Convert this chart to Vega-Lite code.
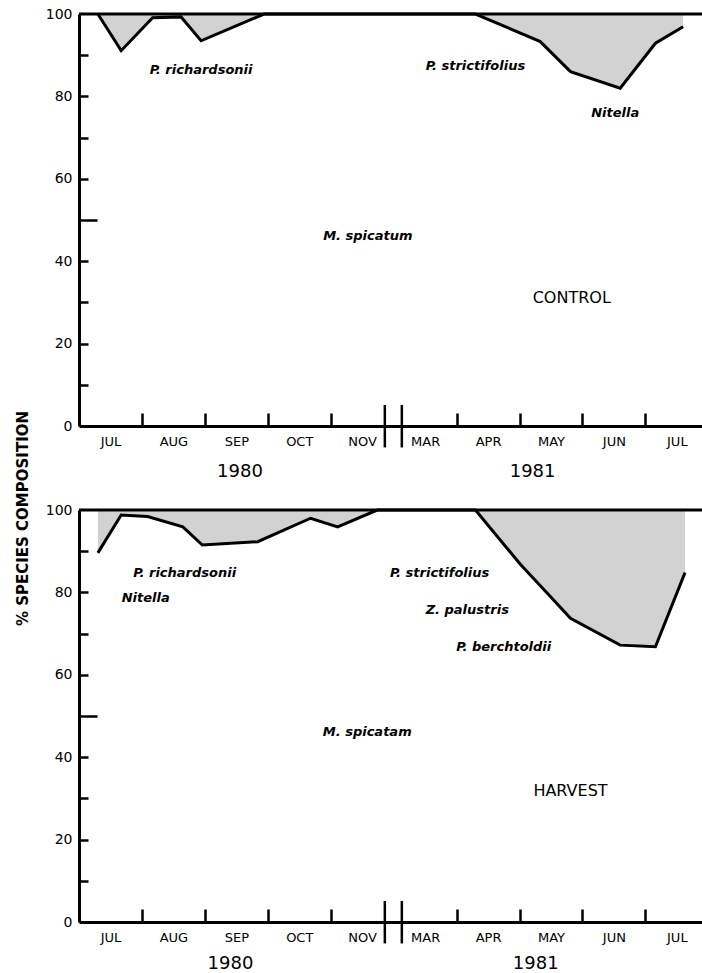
{
  "$schema": "https://vega.github.io/schema/vega-lite/v6.json",
  "background": "white",
  "padding": {"left": 14, "top": 7, "right": 0, "bottom": 0},
  "bounds": "flush",
  "spacing": 84,
  "config": {
    "view": {"stroke": null},
    "font": "DejaVu Sans",
    "axis": {"domainColor": "black", "domainWidth": 3, "tickColor": "black", "tickWidth": 2.5, "labelColor": "black", "labelFont": "DejaVu Sans", "grid": false, "labelOverlap": false, "labelFlush": false, "labelBound": false}
  },
  "datasets": {
    "control": [
      {"t": 0.30, "v": 100}, {"t": 0.67, "v": 91.1}, {"t": 1.17, "v": 99.1}, {"t": 1.62, "v": 99.3},
      {"t": 1.94, "v": 93.5}, {"t": 2.94, "v": 100}, {"t": 6.30, "v": 100}, {"t": 7.33, "v": 93.3},
      {"t": 7.81, "v": 86.0}, {"t": 8.60, "v": 82.0}, {"t": 9.16, "v": 92.9}, {"t": 9.60, "v": 96.9}
    ],
    "harvest": [
      {"t": 0.30, "v": 89.6}, {"t": 0.67, "v": 98.8}, {"t": 1.09, "v": 98.4}, {"t": 1.65, "v": 95.9},
      {"t": 1.96, "v": 91.5}, {"t": 2.84, "v": 92.3}, {"t": 3.68, "v": 98.0}, {"t": 4.11, "v": 95.9},
      {"t": 4.74, "v": 100}, {"t": 6.30, "v": 100}, {"t": 7.02, "v": 86.7}, {"t": 7.49, "v": 79.0},
      {"t": 7.81, "v": 73.7}, {"t": 8.60, "v": 67.2}, {"t": 9.16, "v": 66.8}, {"t": 9.63, "v": 84.8}
    ],
    "breaks": [{"t": 4.86}, {"t": 5.13}],
    "ctext": [
      {"label": "P. richardsonii", "t": 1.94, "v": 86.4},
      {"label": "P. strictifolius", "t": 6.30, "v": 87.4},
      {"label": "Nitella", "t": 8.52, "v": 76.0},
      {"label": "M. spicatum", "t": 4.59, "v": 46.1}
    ],
    "htext": [
      {"label": "P. richardsonii", "t": 1.68, "v": 84.7},
      {"label": "Nitella", "t": 1.06, "v": 78.6},
      {"label": "P. strictifolius", "t": 5.73, "v": 84.7},
      {"label": "Z. palustris", "t": 6.17, "v": 75.7},
      {"label": "P. berchtoldii", "t": 6.75, "v": 66.8},
      {"label": "M. spicatam", "t": 4.58, "v": 46.1}
    ],
    "ctitle": [{"label": "CONTROL", "t": 7.83, "v": 31.1}],
    "htitle": [{"label": "HARVEST", "t": 7.81, "v": 31.8}]
  },
  "vconcat": [
    {
      "width": 623, "height": 412,
      "layer": [
        {
          "data": {"name": "control"},
          "mark": {"type": "area", "fill": "#d2d2d2"},
          "encoding": {
            "x": {"field": "t", "type": "quantitative", "scale": {"domain": [0, 9.9], "nice": false, "zero": false},
              "axis": {"title": null, "labelOverlap": false, "tickCount": 40, "values": [0.5, 1, 1.5, 2, 2.5, 2.55, 3, 3.5, 4, 4.5, 5.5, 6, 6.5, 7, 7.2, 7.5, 8, 8.5, 9, 9.5],
                "labelExpr": "datum.value == 0.5 ? 'JUL' : datum.value == 1.5 ? 'AUG' : datum.value == 2.5 ? 'SEP' : datum.value == 3.5 ? 'OCT' : datum.value == 4.5 ? 'NOV' : datum.value == 5.5 ? 'MAR' : datum.value == 6.5 ? 'APR' : datum.value == 7.5 ? 'MAY' : datum.value == 8.5 ? 'JUN' : datum.value == 9.5 ? 'JUL' : datum.value == 2.55 ? '1980' : datum.value == 7.2 ? '1981' : ''",
                "tickOpacity": {"condition": {"test": "datum.value % 1 == 0", "value": 1}, "value": 0},
                "tickSize": -13,
                "labelFontSize": {"condition": {"test": "datum.value == 2.55 || datum.value == 7.2", "value": 18}, "value": 13},
                "labelPadding": {"condition": {"test": "datum.value == 2.55 || datum.value == 7.2", "value": 49}, "value": 22},
                "labelBaseline": "top"}},
            "y": {"field": "v", "type": "quantitative", "scale": {"domain": [0, 100], "nice": false},
              "axis": {"title": null, "labelOverlap": false, "tickCount": 30, "values": [0, 10, 20, 30, 40, 50, 60, 70, 80, 90, 100],
                "labelExpr": "datum.value % 20 == 0 ? datum.label : ''",
                "tickOpacity": {"condition": {"test": "datum.value > 0 && datum.value < 100", "value": 1}, "value": 0},
                "tickSize": {"condition": {"test": "datum.value == 50", "value": -18}, "value": -9},
                "labelFontSize": 14, "labelPadding": 16}},
            "y2": {"datum": 100}
          }
        },
        {
          "data": {"name": "control"},
          "mark": {"type": "line", "stroke": "black", "strokeWidth": 3, "strokeJoin": "miter"},
          "encoding": {"x": {"field": "t", "type": "quantitative"}, "y": {"field": "v", "type": "quantitative"}}
        },
        {
          "data": {"values": [{}]},
          "mark": {"type": "rule", "stroke": "black", "strokeWidth": 3},
          "encoding": {"y": {"datum": 100}}
        },
        {
          "data": {"name": "breaks"},
          "mark": {"type": "rule", "stroke": "black", "strokeWidth": 2.5},
          "encoding": {"x": {"field": "t", "type": "quantitative"}, "y": {"datum": -5.2}, "y2": {"datum": 5.1}}
        },
        {
          "data": {"name": "ctext"},
          "mark": {"type": "text", "fontStyle": "italic", "fontWeight": "bold", "fontSize": 13, "color": "black"},
          "encoding": {"x": {"field": "t", "type": "quantitative"}, "y": {"field": "v", "type": "quantitative"}, "text": {"field": "label"}}
        },
        {
          "data": {"name": "ctitle"},
          "mark": {"type": "text", "fontSize": 16, "color": "black"},
          "encoding": {"x": {"field": "t", "type": "quantitative"}, "y": {"field": "v", "type": "quantitative"}, "text": {"field": "label"}}
        }
      ]
    },
    {
      "width": 623, "height": 412,
      "layer": [
        {
          "data": {"name": "harvest"},
          "mark": {"type": "area", "fill": "#d2d2d2"},
          "encoding": {
            "x": {"field": "t", "type": "quantitative", "scale": {"domain": [0, 9.9], "nice": false, "zero": false},
              "axis": {"title": null, "labelOverlap": false, "tickCount": 40, "values": [0.5, 1, 1.5, 2, 2.4, 2.5, 3, 3.5, 4, 4.5, 5.5, 6, 6.5, 7, 7.25, 7.5, 8, 8.5, 9, 9.5],
                "labelExpr": "datum.value == 0.5 ? 'JUL' : datum.value == 1.5 ? 'AUG' : datum.value == 2.5 ? 'SEP' : datum.value == 3.5 ? 'OCT' : datum.value == 4.5 ? 'NOV' : datum.value == 5.5 ? 'MAR' : datum.value == 6.5 ? 'APR' : datum.value == 7.5 ? 'MAY' : datum.value == 8.5 ? 'JUN' : datum.value == 9.5 ? 'JUL' : datum.value == 2.4 ? '1980' : datum.value == 7.25 ? '1981' : ''",
                "tickOpacity": {"condition": {"test": "datum.value % 1 == 0", "value": 1}, "value": 0},
                "tickSize": -13,
                "labelFontSize": {"condition": {"test": "datum.value == 2.4 || datum.value == 7.25", "value": 18}, "value": 13},
                "labelPadding": {"condition": {"test": "datum.value == 2.4 || datum.value == 7.25", "value": 45}, "value": 22},
                "labelBaseline": "top"}},
            "y": {"field": "v", "type": "quantitative", "scale": {"domain": [0, 100], "nice": false},
              "axis": {"title": "% SPECIES COMPOSITION", "titleFontSize": 15, "titleFontWeight": "bold", "titleX": -57, "titleY": 8, "titleAlign": "center", "titleBaseline": "middle", "titleAngle": -90,
                "labelOverlap": false, "tickCount": 30, "values": [0, 10, 20, 30, 40, 50, 60, 70, 80, 90, 100],
                "labelExpr": "datum.value % 20 == 0 ? datum.label : ''",
                "tickOpacity": {"condition": {"test": "datum.value > 0 && datum.value < 100", "value": 1}, "value": 0},
                "tickSize": {"condition": {"test": "datum.value == 50", "value": -18}, "value": -9},
                "labelFontSize": 14, "labelPadding": 16}},
            "y2": {"datum": 100}
          }
        },
        {
          "data": {"name": "harvest"},
          "mark": {"type": "line", "stroke": "black", "strokeWidth": 3, "strokeJoin": "miter"},
          "encoding": {"x": {"field": "t", "type": "quantitative"}, "y": {"field": "v", "type": "quantitative"}}
        },
        {
          "data": {"values": [{}]},
          "mark": {"type": "rule", "stroke": "black", "strokeWidth": 3},
          "encoding": {"y": {"datum": 100}}
        },
        {
          "data": {"name": "breaks"},
          "mark": {"type": "rule", "stroke": "black", "strokeWidth": 2.5},
          "encoding": {"x": {"field": "t", "type": "quantitative"}, "y": {"datum": -5.2}, "y2": {"datum": 5.1}}
        },
        {
          "data": {"name": "htext"},
          "mark": {"type": "text", "fontStyle": "italic", "fontWeight": "bold", "fontSize": 13, "color": "black"},
          "encoding": {"x": {"field": "t", "type": "quantitative"}, "y": {"field": "v", "type": "quantitative"}, "text": {"field": "label"}}
        },
        {
          "data": {"name": "htitle"},
          "mark": {"type": "text", "fontSize": 16, "color": "black"},
          "encoding": {"x": {"field": "t", "type": "quantitative"}, "y": {"field": "v", "type": "quantitative"}, "text": {"field": "label"}}
        }
      ]
    }
  ]
}
